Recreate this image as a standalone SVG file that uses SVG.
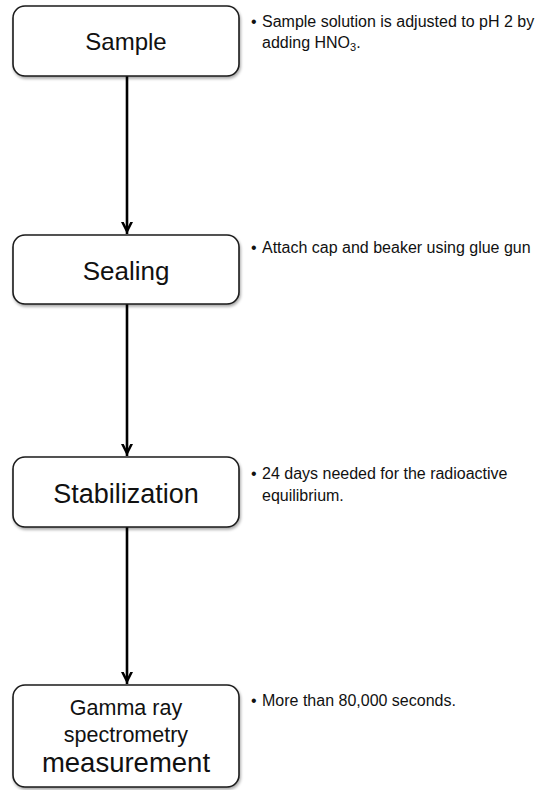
<svg xmlns="http://www.w3.org/2000/svg" width="542" height="790" viewBox="0 0 542 790">
<defs>
<style>
.box{fill:#ffffff;stroke:#1a1a1a;stroke-width:1.6;filter:url(#sh)}
.lbl{font-family:"Liberation Sans",Arial,sans-serif;fill:#111;text-anchor:middle}
.note{font-family:"Liberation Sans",Arial,sans-serif;fill:#111;font-size:16px}
.conn{stroke:#000;stroke-width:2.6;fill:none;marker-end:url(#ah)}
</style>
<filter id="sh" x="-10%" y="-10%" width="125%" height="130%">
<feGaussianBlur in="SourceAlpha" stdDeviation="1.6"/>
<feOffset dx="1" dy="2" result="b"/>
<feComponentTransfer><feFuncA type="linear" slope="0.35"/></feComponentTransfer>
<feMerge><feMergeNode/><feMergeNode in="SourceGraphic"/></feMerge>
</filter>
<marker id="ah" viewBox="0 0 13 13" refX="12.5" refY="6.5" markerWidth="13" markerHeight="13" markerUnits="userSpaceOnUse" orient="auto">
<path d="M0.5,0.5 L12.5,6.5 L0.5,12.5 L0,10 L7,6.5 L0,3 Z" fill="#000"/>
</marker>
</defs>
<rect width="542" height="790" fill="#ffffff"/>
<g id="connectors">
<line class="conn" x1="127" y1="76" x2="127" y2="234"/>
<line class="conn" x1="127" y1="304" x2="127" y2="456"/>
<line class="conn" x1="127" y1="527" x2="127" y2="684"/>
</g>
<g id="sample">
<rect class="box" x="13" y="6" width="226" height="70" rx="12"/>
<text class="lbl" x="126" y="50" font-size="24">Sample</text>
</g>
<g id="sealing">
<rect class="box" x="13" y="235" width="226" height="69" rx="12"/>
<text class="lbl" x="126" y="280" font-size="26">Sealing</text>
</g>
<g id="stabilization">
<rect class="box" x="13" y="457" width="226" height="70" rx="12"/>
<text class="lbl" x="126" y="503" font-size="27">Stabilization</text>
</g>
<g id="measurement">
<rect class="box" x="13" y="685" width="226" height="102" rx="12"/>
<text class="lbl" x="126" y="715" font-size="21.5">Gamma ray</text>
<text class="lbl" x="126" y="742" font-size="21.5">spectrometry</text>
<text class="lbl" x="126" y="772" font-size="27.5">measurement</text>
</g>
<g id="notes">
<text class="note" x="251" y="27">•</text>
<text class="note" x="262" y="27">Sample solution is adjusted to pH 2 by</text>
<text class="note" x="262" y="48">adding HNO<tspan font-size="11" dy="3">3</tspan><tspan dy="-3">.</tspan></text>
<text class="note" x="251" y="253">•</text>
<text class="note" x="262" y="253">Attach cap and beaker using glue gun</text>
<text class="note" x="251" y="479">•</text>
<text class="note" x="262" y="479">24 days needed for the radioactive</text>
<text class="note" x="262" y="501">equilibrium.</text>
<text class="note" x="251" y="706">•</text>
<text class="note" x="262" y="706">More than 80,000 seconds.</text>
</g>
</svg>
